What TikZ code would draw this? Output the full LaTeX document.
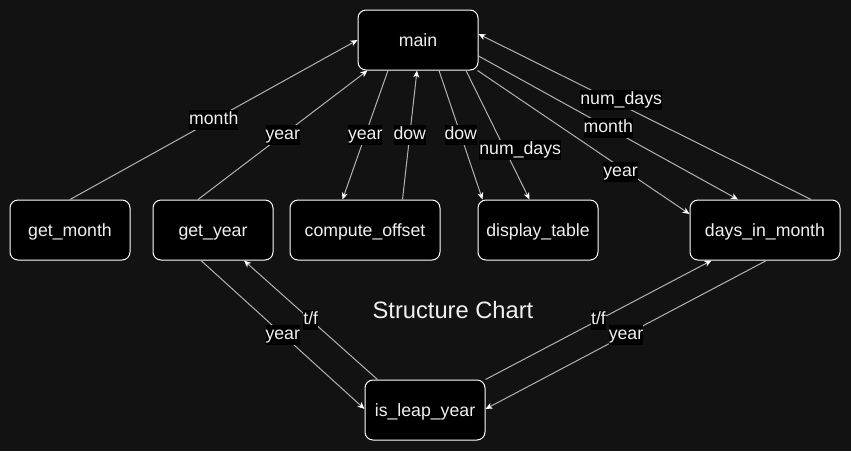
\documentclass[tikz,border=0pt]{standalone}
\usepackage{fontspec}
\setmainfont{Liberation Sans}
\usetikzlibrary{arrows.meta}
\definecolor{bgc}{RGB}{18,18,18}
\definecolor{linec}{RGB}{178,178,178}
\definecolor{txtc}{RGB}{240,240,240}
\tikzset{
  box/.style={draw=white, line width=1pt, fill=black, rounded corners=8pt,
    minimum width=120pt, minimum height=60pt, text=txtc, inner sep=0pt,
    text height=16pt, text depth=3.8pt,
    font=\fontsize{17.7}{21}\selectfont},
  wide/.style={minimum width=150pt},
  edge/.style={draw=linec, line width=1pt, -{Stealth[length=7pt,width=6pt,inset=2pt,color=white]}},
  lbl/.style={fill=black, text=txtc, inner xsep=0pt, inner ysep=0pt,
    text height=14.5pt, text depth=5.5pt, font=\fontsize{17.7}{21}\selectfont},
}
\begin{document}
\begin{tikzpicture}[x=1pt,y=-1pt]
\useasboundingbox (0,0) rectangle (851,451);
\fill[bgc] (0,0) rectangle (851,451);

\node[box] (main) at (418,40) {main};
\node[box] (get_month) at (70,230) {get\_month};
\node[box] (get_year) at (213,230) {get\_year};
\node[box,wide] (compute_offset) at (365,230) {compute\_offset};
\node[box] (display_table) at (538,230) {display\_table};
\node[box,wide] (days_in_month) at (765,230) {days\_in\_month};
\node[box] (is_leap_year) at (425,410) {is\_leap\_year};
\node[text=txtc, font=\fontsize{23.7}{28}\selectfont] (title) at (453,310) {Structure Chart};

\draw[edge] (get_month.north) -- node[lbl]{month} (main.west);
\draw[edge] ([xshift=-15pt]get_year.north) -- node[lbl]{year} ([xshift=10pt]main.south west);
\draw[edge] ([xshift=-30pt]main.south) -- node[lbl]{year} ([xshift=53pt]compute_offset.north west);
\draw[edge] ([xshift=113pt]compute_offset.north west) -- node[lbl]{dow} ([xshift=-1pt]main.south);
\draw[edge] ([xshift=21pt]main.south) -- node[lbl]{dow} ([xshift=5pt]display_table.north west);
\draw[edge] ([xshift=48pt]main.south) -- node[lbl,pos=0.617,xshift=15pt]{num\_days} ([xshift=52pt]display_table.north west);
\draw[edge] ([xshift=-1pt]main.south east) -- node[lbl,pos=0.675,yshift=-5pt]{year} ([yshift=16pt]days_in_month.west);
\draw[edge] ([yshift=-16pt]main.east) -- node[lbl]{month} ([xshift=-27pt]days_in_month.north);
\draw[edge] ([xshift=46pt]days_in_month.north) -- node[lbl,pos=0.571,yshift=5pt]{num\_days} ([yshift=6pt]main.east);

\draw[edge] ([xshift=-12pt]get_year.south) -- node[lbl]{year} ([yshift=1pt]is_leap_year.west);
\draw[edge] ([xshift=13pt]is_leap_year.north west) -- node[lbl]{t/f} ([xshift=31pt]get_year.south);
\draw[edge] (is_leap_year.north east) -- node[lbl]{t/f} ([xshift=22pt]days_in_month.south west);
\draw[edge] ([xshift=77pt]days_in_month.south west) -- node[lbl]{year} ([yshift=1pt]is_leap_year.east);
\end{tikzpicture}
\end{document}
